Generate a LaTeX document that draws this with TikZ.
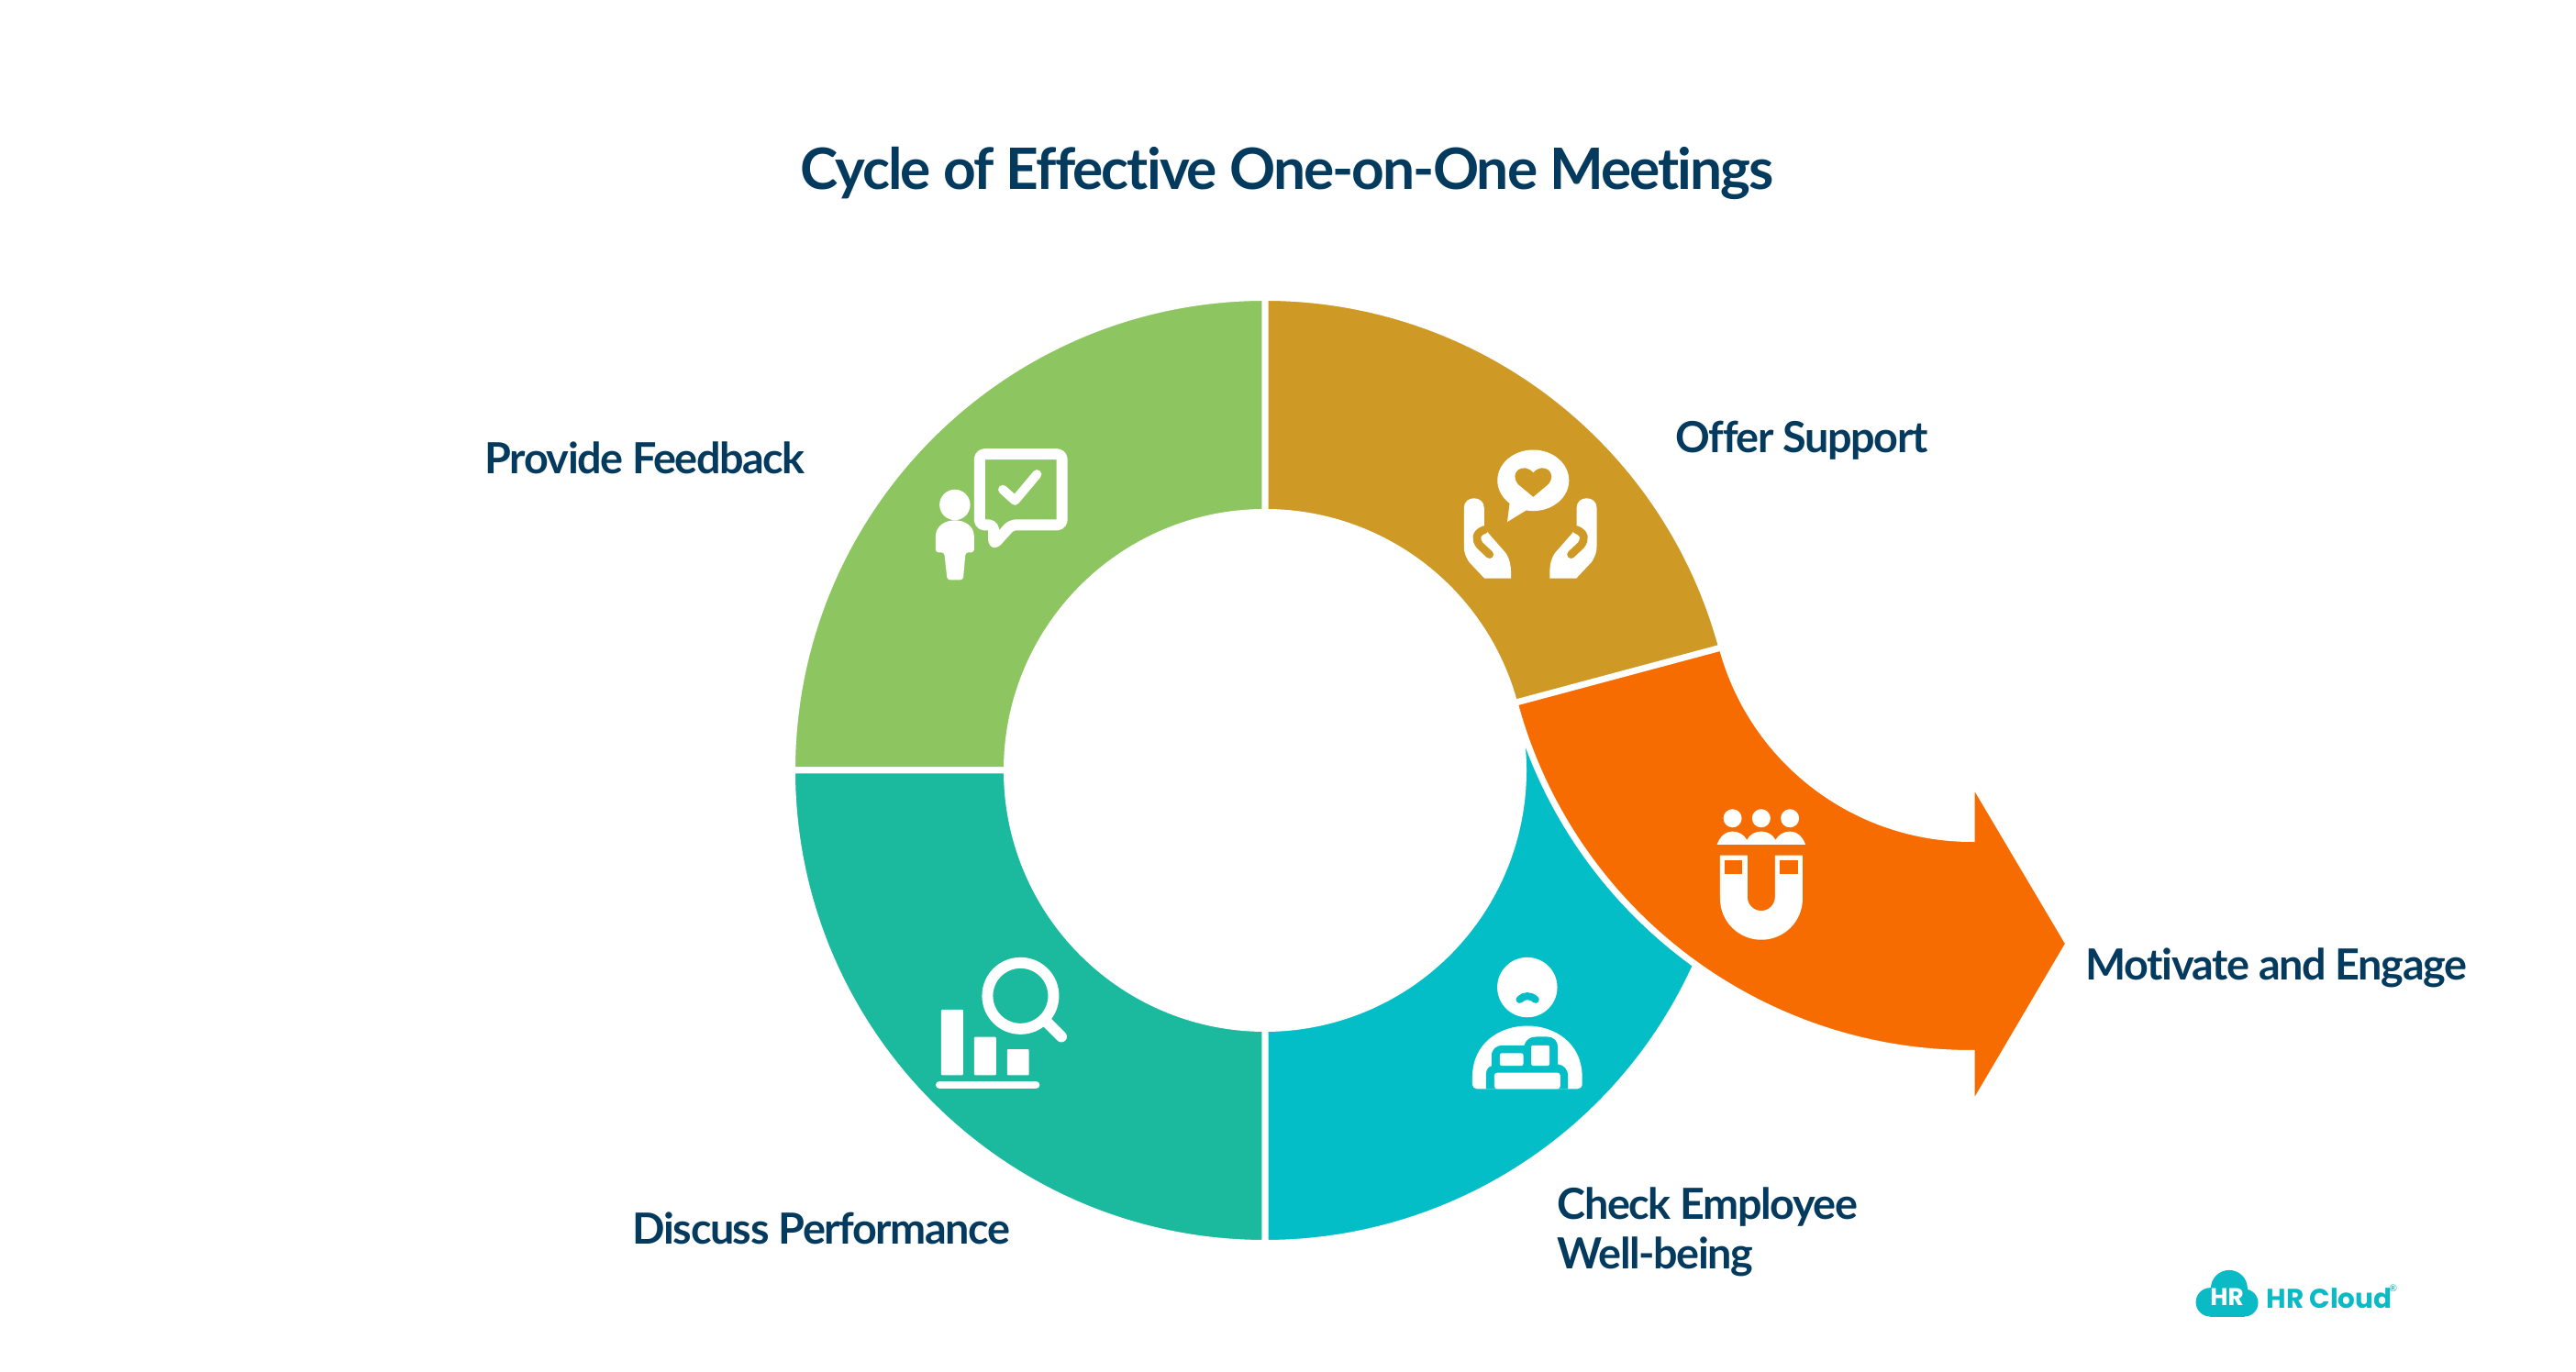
\documentclass[tikz,border=0pt]{standalone}
\usepackage{fontspec}
\usepackage{xcolor}
\setmainfont{Lato}[LetterSpace=-3.1,Ligatures=NoCommon]
\newfontfamily\logofont{Poppins}
\usetikzlibrary{positioning}
\definecolor{navy}{HTML}{033A5E}
\definecolor{leaf}{HTML}{8DC660}
\definecolor{jade}{HTML}{1BB99D}
\definecolor{aqua}{HTML}{04BEC7}
\definecolor{ochre}{HTML}{CF9925}
\definecolor{flame}{HTML}{F76C00}
\definecolor{brand}{HTML}{0ABAC5}
\tikzstyle{segment}=[draw=white, line width=.7mm, line join=miter]
\tikzstyle{caption}=[anchor=west, inner sep=0pt, text=navy, font=\fontsize{13.3}{15.4}\selectfont\bfseries, align=left]
\tikzstyle{heading}=[inner sep=0pt, text=navy, font=\fontsize{17.7}{22}\selectfont\bfseries]
\tikzstyle{glyph}=[fill=white]
\tikzstyle{glyphline}=[draw=white, line cap=round, line join=round]
\tikzstyle{crop}=[x=.003333cm, y=-.003333cm]
\newcommand{\ringpart}[3]{\draw [segment, fill=#1] (#2:5.155) arc [start angle=#2, end angle=#3, radius=5.155]
    -- (#3:2.815) arc [start angle=#3, end angle=#2, radius=2.815] -- cycle;}
\newcommand{\carehand}{%
    \fill [glyph] (288,312) .. controls (288,270) and (354,270) .. (354,312) -- (354,372) -- (368,395) -- (425,460)
        .. controls (438,480) and (442,500) .. (442,525) -- (442,543) -- (355,543) -- (305,490)
        .. controls (292,470) and (288,455) .. (288,440) -- cycle;
    \draw [line width=.087cm, draw=ochre, line cap=round] (356,383) .. controls (325,395) and (325,415) .. (340,435) -- (372,465);}
\begin{document}
\begin{tikzpicture}
    \useasboundingbox (0,0) rectangle (28.08,14.96);

    \coordinate (hub) at (13.79,6.56);
    \coordinate (turn) at (21.49,8.63);

    \begin{scope}[shift={(hub)}]
    \ringpart{leaf}{90}{180}
    \ringpart{jade}{180}{270}
    \ringpart{aqua}{270}{375}
    \ringpart{ochre}{15}{90}
    \end{scope}

    \begin{scope}[shift={(turn)}]
    \draw [segment, fill=flame] (195:5.155) arc [start angle=195, end angle=270, radius=5.155]
        -- (0,-5.76) -- (1.06,-3.96) -- (0,-2.17) -- (270:2.815)
        arc [start angle=270, end angle=195, radius=2.815] -- cycle;
    \end{scope}

    \draw node at (14.03,13.07) [heading] (title) {Cycle of Effective One-on-One Meetings};
    \draw node at (5.28,9.97) [caption] (feedback) {Provide Feedback};
    \draw node at (18.26,10.16) [caption] (support) {Offer Support};
    \draw node at (22.73,4.41) [caption] (engage) {Motivate and Engage};
    \draw node at (6.89,1.57) [caption] (performance) {Discuss Performance};
    \draw node at (16.97,1.53) [caption] (wellbeing) {Check Employee\\Well-being};

    \begin{scope}[shift={(15cm,10.46cm)}, crop]
    \fill [glyph] (515,222) ellipse [x radius=.39cm, y radius=.333cm];
    \fill [glyph] (438,295) -- (430,358) -- (495,318) -- cycle;
    \fill [ochre] (515,276) -- (466,235) .. controls (432,195) and (485,160) .. (515,197)
        .. controls (545,160) and (598,195) .. (564,235) -- cycle;
    \carehand
    \begin{scope}[shift={(3.363cm,0)}, x=-.003333cm]
    \carehand
    \end{scope}
    \end{scope}

    \begin{scope}[shift={(9.8cm,10.36cm)}, crop]
    \fill [glyph] (183,272) circle [radius=.167cm];
    \fill [glyph, rounded corners=.03cm] (120,428) -- (120,385) .. controls (120,305) and (246,305) .. (246,385)
        -- (246,428) -- (218,428) -- (210,518) -- (158,518) -- (148,428) -- cycle;
    \draw [glyphline, line width=.12cm, rounded corners=.05cm] (310,338) -- (310,402) -- (368,338) -- (534,338)
        -- (534,106) -- (264,106) -- (264,338) -- cycle;
    \draw [glyphline, line width=.1cm] (340,222) -- (380,258) -- (452,172);
    \end{scope}

    \begin{scope}[shift={(10cm,4.76cm)}, crop]
    \draw [glyphline, line width=.12cm] (338,198) circle [radius=.36cm];
    \draw [glyphline, line width=.12cm] (425,285) -- (472,332);
    \fill [glyph, rounded corners=.01cm] (78,243) rectangle (150,458);
    \fill [glyph, rounded corners=.01cm] (186,333) rectangle (258,458);
    \fill [glyph, rounded corners=.01cm] (294,373) rectangle (366,458);
    \draw [glyphline, line width=.087cm] (73,490) -- (388,490);
    \end{scope}

    \begin{scope}[shift={(15.8cm,4.56cm)}, crop]
    \fill [glyph] (255,110) circle [radius=.327cm];
    \draw [draw=aqua, line width=.08cm, line cap=round] (230,150) .. controls (245,135) and (265,135) .. (282,150);
    \fill [glyph, rounded corners=.05cm] (75,443) -- (75,420) .. controls (75,180) and (435,180) .. (435,420) -- (435,443) -- cycle;
    \fill [aqua] (120,443) -- (120,395) .. controls (120,380) and (128,370) .. (138,368) -- (138,335)
        .. controls (138,312) and (155,300) .. (175,300) -- (245,300) .. controls (250,282) and (265,272) .. (285,272)
        -- (320,272) .. controls (340,272) and (355,285) .. (355,305) -- (355,362) .. controls (375,365) and (388,378) .. (388,400)
        -- (388,443) -- cycle;
    \fill [glyph, rounded corners=.03cm] (147,443) -- (147,390) -- (363,390) -- (363,443) -- cycle;
    \fill [glyph, rounded corners=.02cm] (165,367) -- (165,326) -- (242,326) -- (242,367) -- cycle;
    \fill [glyph, rounded corners=.02cm] (268,367) -- (268,300) -- (328,300) -- (328,367) -- cycle;
    \end{scope}

    \begin{scope}[shift={(18.5cm,6.26cm)}, crop]
    \fill [glyph] (116,67) circle [radius=.1cm];
    \fill [glyph] (210,67) circle [radius=.1cm];
    \fill [glyph] (304,67) circle [radius=.1cm];
    \fill [glyph] (65,153) .. controls (75,125) and (95,110) .. (116,110) .. controls (137,110) and (155,122) .. (163,138)
        .. controls (172,120) and (190,110) .. (210,110) .. controls (230,110) and (248,120) .. (257,138)
        .. controls (265,122) and (283,110) .. (304,110) .. controls (325,110) and (345,125) .. (355,153) -- cycle;
    \fill [glyph] (75,188) -- (75,330) arc [start angle=180, end angle=360, radius=.45cm] -- (345,188) -- (255,188)
        -- (255,325) arc [start angle=0, end angle=-180, radius=.15cm] -- (165,188) -- cycle;
    \fill [flame] (90,205) rectangle (148,250);
    \fill [flame] (272,205) rectangle (330,250);
    \end{scope}

    \begin{scope}[shift={(23.8cm,1.26cm)}, crop]
    \fill [brand] (150,105) circle [radius=.2cm];
    \fill [brand] (88,150) circle [radius=.157cm];
    \fill [brand] (200,152) circle [radius=.15cm];
    \fill [brand] (88,150) rectangle (200,197);
    \draw node at (143,133) [inner sep=0pt, text=white, font=\fontsize{7.5}{9}\logofont\bfseries] (cloudmark) {HR};
    \draw node at (270,138) [anchor=west, inner sep=0pt, text=brand, font=\fontsize{8.4}{10}\logofont\bfseries] (brandname) {HR Cloud};
    \draw node at (688,105) [inner sep=0pt, text=brand, font=\fontsize{3}{4}\selectfont] (brandmark) {\textregistered};
    \end{scope}
\end{tikzpicture}
\end{document}
